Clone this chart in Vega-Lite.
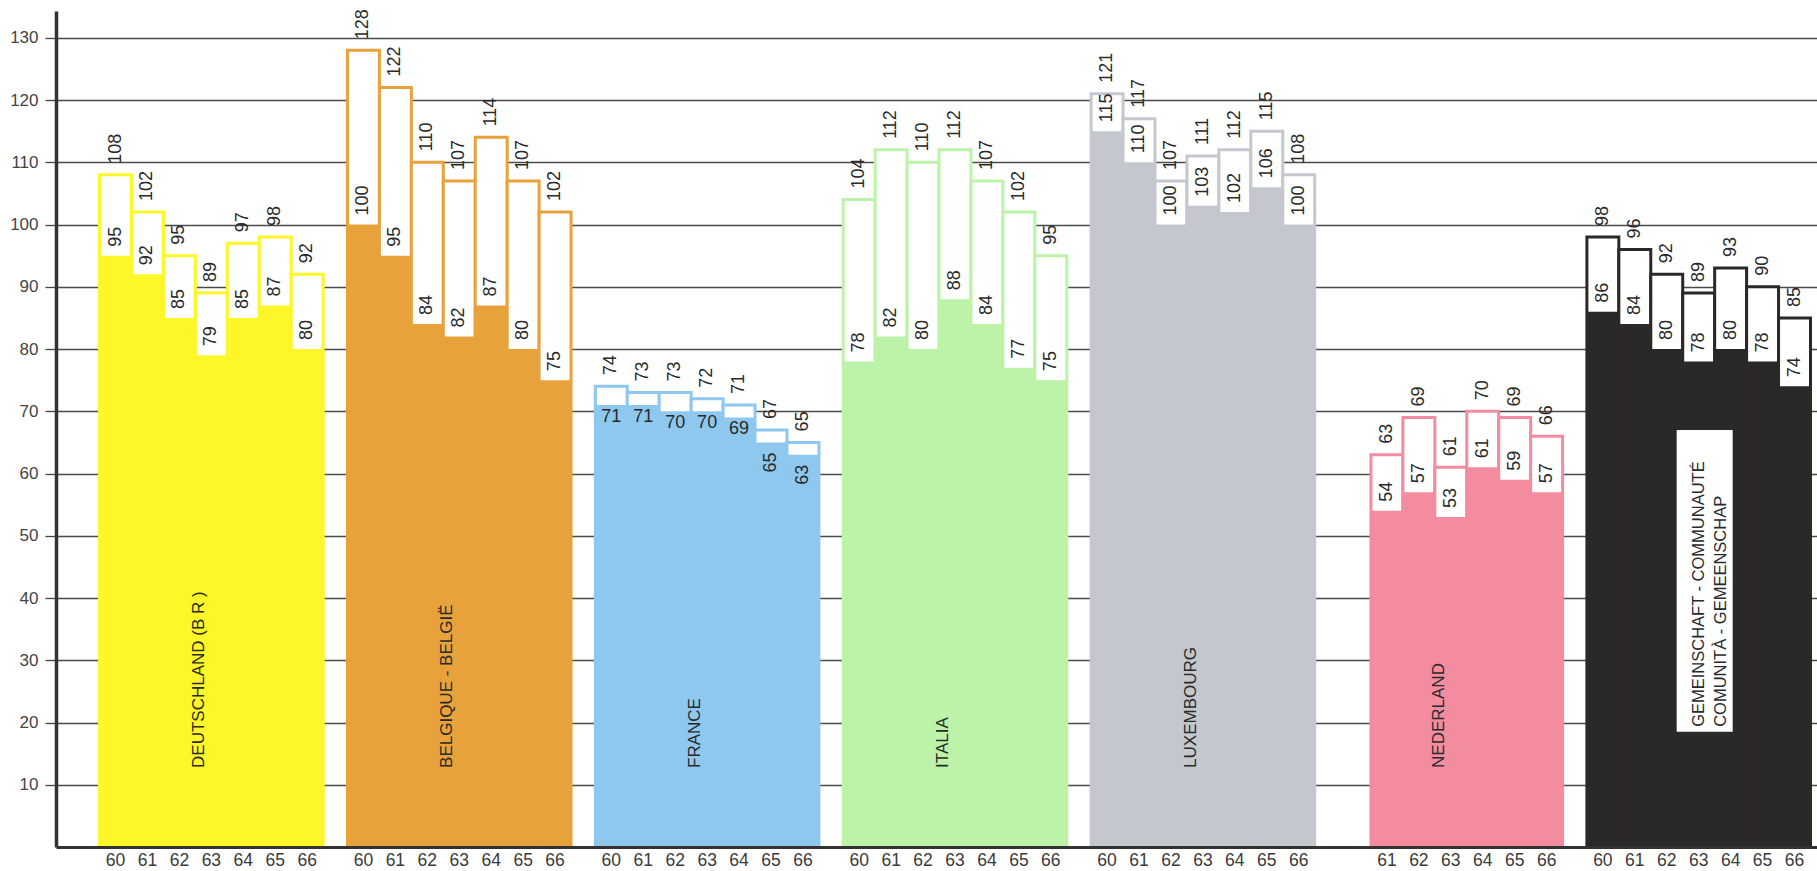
{
  "$schema": "https://vega.github.io/schema/vega-lite/v6.json",
  "width": 1761,
  "height": 836,
  "autosize": {"type": "none"},
  "padding": {"left": 56, "top": 11, "right": 0, "bottom": 24},
  "background": "white",
  "config": {"view": {"stroke": null}, "font": "Liberation Sans", "text": {"font": "Liberation Sans", "color": "#2a2a2a"}},
  "datasets": {
    "bars": [
      {"country": "DE", "year": 60, "high": 108, "low": 95},
      {"country": "DE", "year": 61, "high": 102, "low": 92},
      {"country": "DE", "year": 62, "high": 95, "low": 85},
      {"country": "DE", "year": 63, "high": 89, "low": 79},
      {"country": "DE", "year": 64, "high": 97, "low": 85},
      {"country": "DE", "year": 65, "high": 98, "low": 87},
      {"country": "DE", "year": 66, "high": 92, "low": 80},
      {"country": "BE", "year": 60, "high": 128, "low": 100},
      {"country": "BE", "year": 61, "high": 122, "low": 95},
      {"country": "BE", "year": 62, "high": 110, "low": 84},
      {"country": "BE", "year": 63, "high": 107, "low": 82},
      {"country": "BE", "year": 64, "high": 114, "low": 87},
      {"country": "BE", "year": 65, "high": 107, "low": 80},
      {"country": "BE", "year": 66, "high": 102, "low": 75},
      {"country": "FR", "year": 60, "high": 74, "low": 71},
      {"country": "FR", "year": 61, "high": 73, "low": 71},
      {"country": "FR", "year": 62, "high": 73, "low": 70},
      {"country": "FR", "year": 63, "high": 72, "low": 70},
      {"country": "FR", "year": 64, "high": 71, "low": 69},
      {"country": "FR", "year": 65, "high": 67, "low": 65},
      {"country": "FR", "year": 66, "high": 65, "low": 63},
      {"country": "IT", "year": 60, "high": 104, "low": 78},
      {"country": "IT", "year": 61, "high": 112, "low": 82},
      {"country": "IT", "year": 62, "high": 110, "low": 80},
      {"country": "IT", "year": 63, "high": 112, "low": 88},
      {"country": "IT", "year": 64, "high": 107, "low": 84},
      {"country": "IT", "year": 65, "high": 102, "low": 77},
      {"country": "IT", "year": 66, "high": 95, "low": 75},
      {"country": "LU", "year": 60, "high": 121, "low": 115},
      {"country": "LU", "year": 61, "high": 117, "low": 110},
      {"country": "LU", "year": 62, "high": 107, "low": 100},
      {"country": "LU", "year": 63, "high": 111, "low": 103},
      {"country": "LU", "year": 64, "high": 112, "low": 102},
      {"country": "LU", "year": 65, "high": 115, "low": 106},
      {"country": "LU", "year": 66, "high": 108, "low": 100},
      {"country": "NL", "year": 61, "high": 63, "low": 54},
      {"country": "NL", "year": 62, "high": 69, "low": 57},
      {"country": "NL", "year": 63, "high": 61, "low": 53},
      {"country": "NL", "year": 64, "high": 70, "low": 61},
      {"country": "NL", "year": 65, "high": 69, "low": 59},
      {"country": "NL", "year": 66, "high": 66, "low": 57},
      {"country": "EG", "year": 60, "high": 98, "low": 86},
      {"country": "EG", "year": 61, "high": 96, "low": 84},
      {"country": "EG", "year": 62, "high": 92, "low": 80},
      {"country": "EG", "year": 63, "high": 89, "low": 78},
      {"country": "EG", "year": 64, "high": 93, "low": 80},
      {"country": "EG", "year": 65, "high": 90, "low": 78},
      {"country": "EG", "year": 66, "high": 85, "low": 74}
    ],
    "names": [
      {"country": "DE", "label": "DEUTSCHLAND (B R )"},
      {"country": "BE", "label": "BELGIQUE - BELGIË"},
      {"country": "FR", "label": "FRANCE"},
      {"country": "IT", "label": "ITALIA"},
      {"country": "LU", "label": "LUXEMBOURG"},
      {"country": "NL", "label": "NEDERLAND"},
      {"country": "EG", "label": "GEMEINSCHAFT - COMMUNAUTÉ\nCOMUNITÀ - GEMEENSCHAP"}
    ]
  },
  "encoding": {
    "x": {
      "field": "country",
      "type": "nominal",
      "scale": {"domain": ["DE", "BE", "FR", "IT", "LU", "NL", "EG"], "paddingInner": 0.098, "paddingOuter": 0.101, "align": 0.87},
      "axis": {"labels": false, "ticks": false, "domain": true, "domainWidth": 3, "domainColor": "#333333", "title": null, "grid": false, "zindex": 1}
    }
  },
  "layer": [
    {
      "data": {"name": "bars"},
      "mark": {"type": "bar", "fill": "white", "strokeWidth": 3},
      "encoding": {
        "xOffset": {"field": "year", "type": "ordinal", "scale": {"paddingInner": 0, "paddingOuter": 0}},
        "y": {
          "field": "high",
          "type": "quantitative",
          "scale": {"domain": [0, 134.3], "nice": false},
          "axis": {"values": [10, 20, 30, 40, 50, 60, 70, 80, 90, 100, 110, 120, 130], "grid": true, "gridColor": "#4a4a4a", "gridWidth": 1.3, "domainColor": "#333333", "domainWidth": 3.5, "tickColor": "#444444", "tickWidth": 1.3, "tickSize": 11, "labelFontSize": 17, "labelColor": "#444444", "labelPadding": 7, "title": null, "zindex": 0}
        },
        "stroke": {"field": "country", "type": "nominal", "scale": {"domain": ["DE", "BE", "FR", "IT", "LU", "NL", "EG"], "range": ["#fdf628", "#e7a23c", "#8ec8ee", "#bdf3a8", "#c4c7ce", "#f48ca0", "#2b2927"]}, "legend": null}
      }
    },
    {
      "data": {"name": "bars"},
      "mark": {"type": "bar"},
      "encoding": {
        "xOffset": {"field": "year", "type": "ordinal"},
        "y": {"field": "low", "type": "quantitative"},
        "color": {"field": "country", "type": "nominal", "scale": {"domain": ["DE", "BE", "FR", "IT", "LU", "NL", "EG"], "range": ["#fdf628", "#e7a23c", "#8ec8ee", "#bdf3a8", "#c4c7ce", "#f48ca0", "#2b2927"]}, "legend": null}
      }
    },
    {
      "data": {"name": "bars"},
      "mark": {"type": "text", "angle": 270, "align": "left", "baseline": "middle", "dx": 11, "fontSize": 18},
      "encoding": {
        "xOffset": {"field": "year", "type": "ordinal"},
        "y": {"field": "high", "type": "quantitative"},
        "text": {"field": "high", "type": "quantitative"}
      }
    },
    {
      "data": {"name": "bars"},
      "transform": [{"filter": "datum.country != 'FR'"}],
      "mark": {"type": "text", "angle": 270, "align": "left", "baseline": "middle", "dx": 9, "fontSize": 18},
      "encoding": {
        "xOffset": {"field": "year", "type": "ordinal"},
        "y": {"field": "low", "type": "quantitative"},
        "text": {"field": "low", "type": "quantitative"}
      }
    },
    {
      "data": {"name": "bars"},
      "transform": [{"filter": "datum.country == 'FR' && datum.year <= 64"}],
      "mark": {"type": "text", "align": "center", "baseline": "top", "dy": 3, "fontSize": 18},
      "encoding": {
        "xOffset": {"field": "year", "type": "ordinal"},
        "y": {"field": "low", "type": "quantitative"},
        "text": {"field": "low", "type": "quantitative"}
      }
    },
    {
      "data": {"name": "bars"},
      "transform": [{"filter": "datum.country == 'FR' && datum.year >= 65"}],
      "mark": {"type": "text", "angle": 270, "align": "right", "baseline": "middle", "dx": -10, "fontSize": 18},
      "encoding": {
        "xOffset": {"field": "year", "type": "ordinal"},
        "y": {"field": "low", "type": "quantitative"},
        "text": {"field": "low", "type": "quantitative"}
      }
    },
    {
      "data": {"name": "bars"},
      "mark": {"type": "text", "align": "center", "baseline": "top", "dy": 5, "fontSize": 17.5, "color": "#3a3a3a"},
      "encoding": {
        "xOffset": {"field": "year", "type": "ordinal"},
        "y": {"datum": 0, "type": "quantitative"},
        "text": {"field": "year", "type": "ordinal"}
      }
    },
    {
      "data": {"name": "names"},
      "transform": [{"filter": "datum.country == 'EG'"}],
      "mark": {"type": "bar", "fill": "white", "width": 56, "xOffset": 6},
      "encoding": {
        "y": {"datum": 18.5, "type": "quantitative"},
        "y2": {"datum": 67}
      }
    },
    {
      "data": {"name": "names"},
      "transform": [{"filter": "datum.country != 'EG'"}],
      "mark": {"type": "text", "angle": 270, "align": "left", "baseline": "middle", "dy": -12, "fontSize": 17},
      "encoding": {
        "y": {"datum": 12.7, "type": "quantitative"},
        "text": {"field": "label", "type": "nominal"}
      }
    },
    {
      "data": {"name": "names"},
      "transform": [{"filter": "datum.country == 'EG'"}],
      "mark": {"type": "text", "angle": 270, "align": "left", "baseline": "middle", "dy": 0, "fontSize": 16.5, "lineHeight": 22, "lineBreak": "\n"},
      "encoding": {
        "y": {"datum": 19.3, "type": "quantitative"},
        "text": {"field": "label", "type": "nominal"}
      }
    }
  ]
}
